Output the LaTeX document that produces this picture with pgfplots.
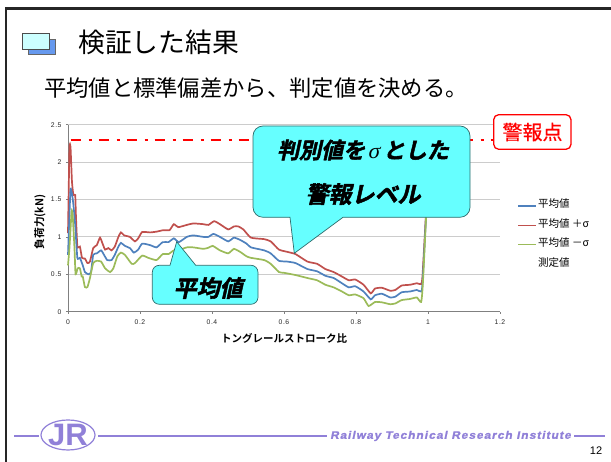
\documentclass[border=0pt]{standalone}
\usepackage{fontspec}
\usepackage{pgfplots}
\pgfplotsset{compat=1.18}
\setmainfont{Liberation Sans}
\newfontfamily\jp{Noto Sans CJK JP}
\newfontfamily\jpmid[FakeBold=0.5]{Noto Sans CJK JP}
\newfontfamily\jpbold{Noto Sans CJK JP Bold}
\newfontfamily\jpslant[FakeSlant=0.22,FakeBold=2]{Noto Sans CJK JP Bold}
\newfontfamily\sigmaslant[FakeSlant=0.2]{Liberation Serif}
\newfontfamily\latinslant[FakeSlant=0.2,FakeBold=1.5,FakeStretch=1.1]{Liberation Sans Bold}
\definecolor{meanblue}{HTML}{4F81BD}
\definecolor{plusred}{HTML}{C0504D}
\definecolor{minusgreen}{HTML}{9BBB59}
\definecolor{calloutfill}{HTML}{66FFFF}
\definecolor{calloutedge}{HTML}{2F6B6B}
\definecolor{footer}{HTML}{9080D8}
\definecolor{bulletback}{HTML}{6699EE}
\definecolor{bulletfront}{HTML}{CCFFFF}
\begin{document}
\begin{tikzpicture}[x=1pt,y=1pt]
\path[use as bounding box] (0,0) rectangle (611,462);
\begin{scope}[yshift=462pt,y=-1pt]
  % slide frame
  \draw[line width=2.2pt,black!85] (6,462) -- (6,8.5) -- (611,8.5);
  % title bullet
  \draw[line width=.4pt,black!60,fill=bulletback] (28,39) rectangle (55,54);
  \draw[line width=.7pt,black!70,fill=bulletfront] (22,33) rectangle (49,49);
  \node[anchor=west,inner sep=0] at (78,42) {\jp\fontsize{26.8}{27}\selectfont 検証した結果};
  \node[anchor=west,inner sep=0] at (44,88) {\jp\fontsize{22.3}{23}\selectfont 平均値と標準偏差から、判定値を決める。};
  % footer
  \draw[footer,line width=1.4pt] (14,436) -- (39,436) (98,436) -- (327,436) (574,436) -- (605,436);
  \draw[footer,line width=1.2pt,fill=white] (68,435) ellipse (27 and 15);
  \node[footer,inner sep=0] at (68,435) {\bfseries\fontsize{31}{31}\selectfont JR};
  \node[footer,anchor=west,inner sep=0] at (330,436) {\latinslant\fontsize{10.8}{11}\selectfont\addfontfeatures{LetterSpace=9.5}Railway Technical Research Institute};
  \node[anchor=center,inner sep=0] at (596,451) {\fontsize{11}{11}\selectfont 12};
\end{scope}

\begin{axis}[
  at={(68pt,150.3pt)},anchor=south west,
  scale only axis,width=432pt,height=187pt,
  xmin=0,xmax=1.2,ymin=0,ymax=2.5,
  xtick={0,0.2,0.4,0.6,0.8,1,1.2},
  ytick={0,0.5,1,1.5,2,2.5},
  axis lines=left,
  axis line style={-,draw=black!50,line width=.9pt},
  tick style={draw=black!50,line width=.5pt},
  tick align=outside,
  major tick length=2pt,
  ymajorgrids,
  grid style={draw=black!20,line width=1.1pt},
  /pgf/number format/assume math mode=true,
  tick label style={font=\fontsize{6.8}{7}\selectfont\addfontfeatures{LetterSpace=8},text=black!85},
  xticklabel shift=3pt,
  yticklabel shift=1pt,
  xlabel={\jpbold\fontsize{10.5}{11}\selectfont トングレールストローク比},
  xlabel style={at={(axis description cs:0.5,0)},yshift=-18pt},
  ylabel={\jpbold\fontsize{10.8}{11}\selectfont 負荷力(kN)},
  ylabel style={at={(axis description cs:0,0.48)},yshift=19pt},
  clip=false,
]
% warning level
\addplot[red,line width=2.3pt,dash pattern=on 10pt off 8pt on 3pt off 7pt] coordinates {(0.0075,2.295) (1.195,2.295)};
% mean plus sigma
\addplot[plusred,line width=1.7pt,smooth,tension=0.3] coordinates {
(0.000,1.05)(0.004,2.18)(0.007,2.20)(0.011,1.74)(0.015,1.56)(0.020,1.56)(0.022,1.29)(0.026,0.87)
(0.033,0.87)(0.039,0.72)(0.047,0.71)(0.054,0.65)(0.061,0.67)(0.070,0.85)(0.080,0.89)(0.089,0.99)
(0.096,0.91)(0.103,0.83)(0.112,0.85)(0.121,0.82)(0.130,0.87)(0.140,1.00)(0.147,1.06)(0.156,1.02)
(0.165,1.01)(0.172,1.00)(0.186,0.94)(0.195,0.98)(0.206,1.065)(0.228,1.06)(0.246,1.07)(0.265,1.09)
(0.282,1.09)(0.294,1.17)(0.306,1.13)(0.330,1.16)(0.348,1.18)(0.376,1.17)(0.390,1.16)(0.406,1.21)
(0.422,1.17)(0.445,1.10)(0.461,1.14)(0.473,1.14)(0.487,1.10)(0.508,0.99)(0.545,0.97)(0.563,0.94)
(0.586,0.83)(0.609,0.80)(0.632,0.77)(0.665,0.67)(0.692,0.64)(0.715,0.57)(0.738,0.53)(0.761,0.47)
(0.780,0.42)(0.798,0.43)(0.821,0.36)(0.841,0.245)(0.853,0.31)(0.872,0.32)(0.895,0.28)(0.909,0.29)
(0.927,0.35)(0.950,0.36)(0.969,0.38)(0.981,0.37)(0.985,0.50)(1.000,1.80)};
% mean
\addplot[meanblue,line width=1.7pt,smooth,tension=0.3] coordinates {
(0.000,0.76)(0.004,1.29)(0.007,1.64)(0.011,1.58)(0.015,1.43)(0.020,1.16)(0.026,0.72)(0.033,0.72)
(0.041,0.62)(0.047,0.53)(0.057,0.50)(0.064,0.53)(0.070,0.76)(0.080,0.78)(0.092,0.82)(0.100,0.76)
(0.109,0.69)(0.121,0.69)(0.130,0.76)(0.140,0.87)(0.147,0.92)(0.158,0.88)(0.172,0.85)(0.183,0.79)
(0.195,0.83)(0.206,0.91)(0.228,0.89)(0.246,0.86)(0.263,0.93)(0.279,0.93)(0.294,0.98)(0.308,0.93)
(0.330,1.00)(0.348,1.02)(0.376,1.00)(0.390,1.00)(0.404,1.04)(0.422,1.00)(0.445,0.94)(0.461,0.99)
(0.478,0.96)(0.496,0.91)(0.508,0.86)(0.545,0.82)(0.563,0.78)(0.586,0.68)(0.609,0.67)(0.632,0.65)
(0.665,0.57)(0.692,0.54)(0.715,0.48)(0.738,0.45)(0.761,0.38)(0.780,0.325)(0.798,0.34)(0.821,0.27)
(0.841,0.165)(0.853,0.22)(0.872,0.24)(0.895,0.19)(0.909,0.20)(0.927,0.26)(0.950,0.27)(0.969,0.29)
(0.981,0.27)(0.985,0.40)(1.000,1.80)};
% mean minus sigma
\addplot[minusgreen,line width=1.7pt,smooth,tension=0.3] coordinates {
(0.000,0.62)(0.004,0.85)(0.010,1.34)(0.013,1.29)(0.018,0.85)(0.021,0.50)(0.027,0.58)(0.033,0.58)
(0.038,0.47)(0.041,0.47)(0.047,0.33)(0.054,0.33)(0.061,0.45)(0.070,0.65)(0.080,0.68)(0.092,0.67)
(0.103,0.58)(0.117,0.53)(0.126,0.58)(0.137,0.74)(0.147,0.79)(0.158,0.76)(0.177,0.64)(0.186,0.65)
(0.206,0.75)(0.223,0.72)(0.246,0.69)(0.263,0.77)(0.279,0.77)(0.294,0.82)(0.306,0.82)(0.330,0.86)
(0.348,0.86)(0.376,0.84)(0.390,0.855)(0.402,0.88)(0.422,0.82)(0.445,0.78)(0.461,0.84)(0.478,0.80)
(0.496,0.74)(0.508,0.72)(0.545,0.69)(0.563,0.64)(0.586,0.53)(0.600,0.52)(0.632,0.49)(0.665,0.45)
(0.692,0.42)(0.715,0.36)(0.738,0.325)(0.761,0.27)(0.780,0.22)(0.798,0.23)(0.821,0.18)(0.835,0.076)
(0.853,0.13)(0.872,0.125)(0.895,0.10)(0.909,0.11)(0.927,0.155)(0.950,0.17)(0.969,0.19)(0.981,0.13)
(0.986,0.40)(1.000,1.80)};
\end{axis}

\begin{scope}[yshift=462pt,y=-1pt]
  % legend
  \draw[meanblue,line width=1.5pt] (518,206) -- (536,206);
  \draw[plusred,line width=1.5pt] (518,225.7) -- (536,225.7);
  \draw[minusgreen,line width=1.5pt] (518,244.7) -- (536,244.7);
  \foreach \ypos/\lab in {204/平均値,224/平均値 ＋σ,243/平均値 －σ,263/測定値}{
    \node[anchor=west,inner sep=0] at (538,\ypos) {\jp\fontsize{10.5}{11}\selectfont \lab};
  }
  % warning point tag
  \draw[red,line width=1.3pt,fill=white,rounded corners=5pt] (493.7,114.7) rectangle (571,149.3);
  \node[red,inner sep=0] at (532.5,132) {\jpmid\fontsize{20}{20}\selectfont 警報点};
  % callouts
  \draw[calloutedge,line width=.7pt,fill=calloutfill,rounded corners=10pt]
    (300,126) -- (470,126) -- (470,217.3) [sharp corners] -- (343,217.3) -- (294.3,253.3) -- (290,217.3) [rounded corners=10pt] -- (253,217.3) -- (253,126) -- cycle;
  \node[inner sep=0] at (363,150) {\jpslant\fontsize{22}{22}\selectfont 判別値を\hspace{2.5pt}{\sigmaslant σ}\hspace{3.5pt}とした};
  \node[inner sep=0] at (363,194) {\jpslant\fontsize{23}{23}\selectfont 警報レベル};
  \draw[calloutedge,line width=.7pt,fill=calloutfill,rounded corners=7pt]
    (230,304.3) -- (152.3,304.3) -- (152.3,265.3) [sharp corners] -- (170,265.3) -- (176.7,241.7) -- (195.7,265.3) [rounded corners=7pt] -- (258,265.3) -- (258,304.3) -- cycle;
  \node[inner sep=0] at (208,288) {\jpslant\fontsize{23}{23}\selectfont 平均値};
\end{scope}
\end{tikzpicture}
\end{document}
